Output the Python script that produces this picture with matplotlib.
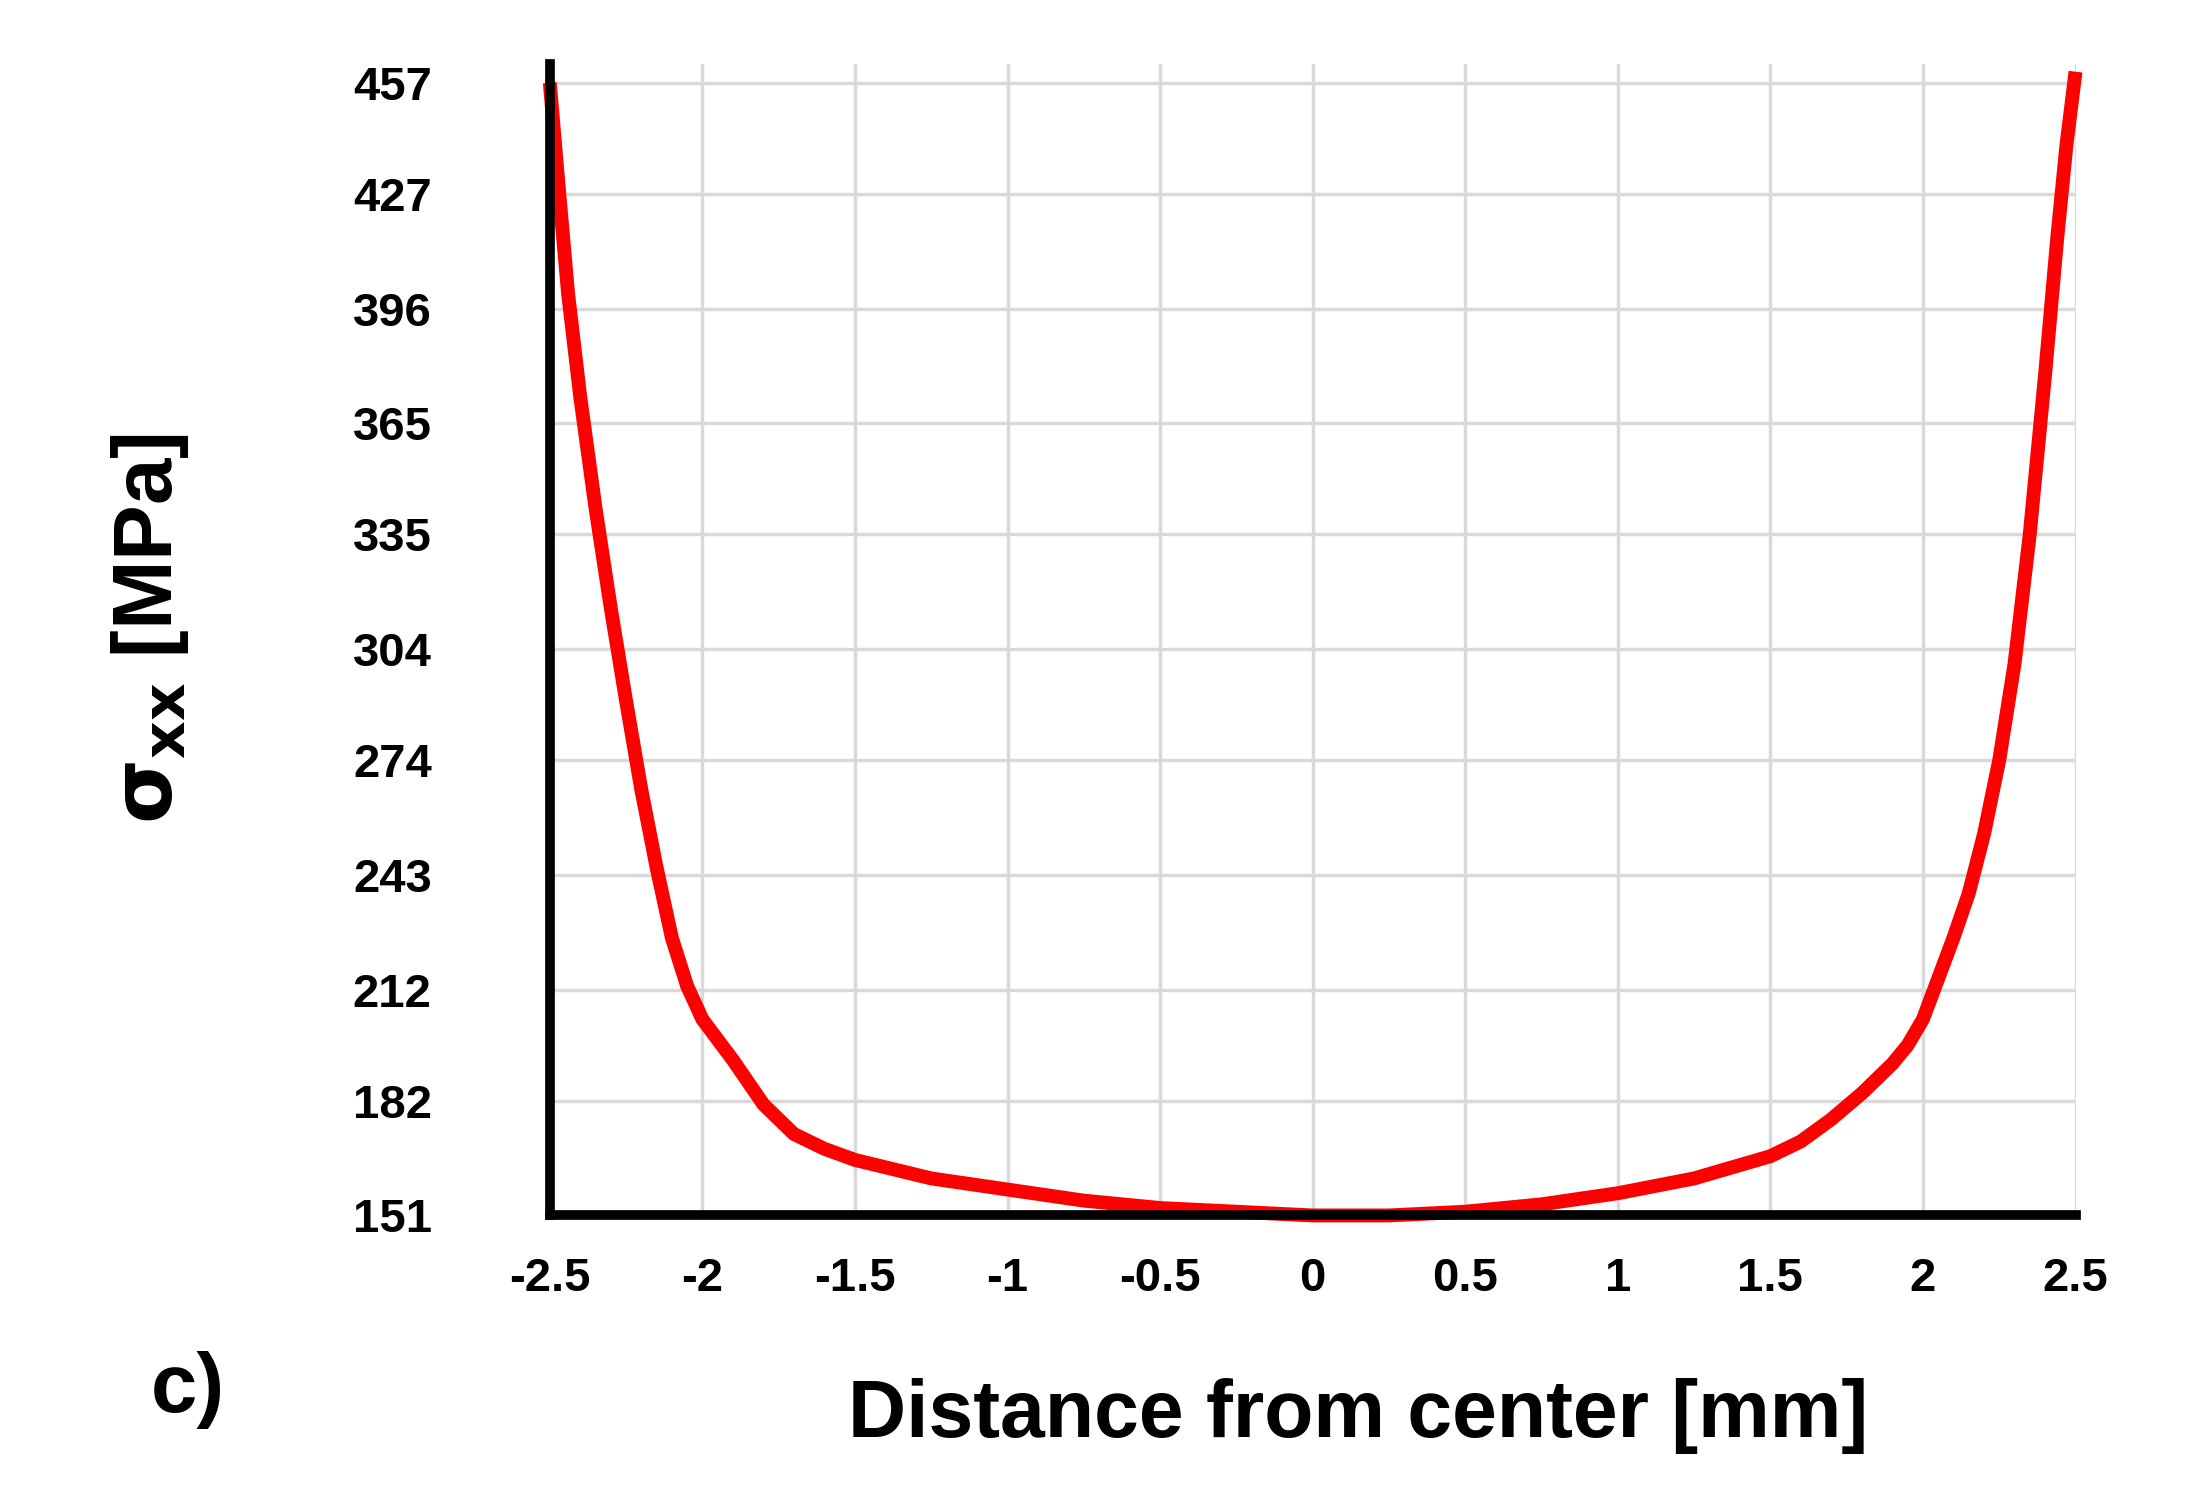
import matplotlib
matplotlib.use("Agg")
import matplotlib.pyplot as plt

x_mm = [-2.5, -2.47, -2.44, -2.4, -2.35, -2.3, -2.25, -2.2, -2.15, -2.1, -2.05, -2.0, -1.9, -1.8, -1.7, -1.6, -1.5, -1.25, -1.0, -0.75, -0.5, -0.25, 0.0, 0.25, 0.5, 0.75, 1.0, 1.25, 1.5, 1.6, 1.7, 1.8, 1.9, 1.95, 2.0, 2.05, 2.1, 2.15, 2.2, 2.25, 2.3, 2.35, 2.4, 2.44, 2.47, 2.5]
sigma = [457, 428, 400, 372, 342, 315, 290, 266, 245, 226, 213, 204, 193, 181, 173, 169, 166, 161, 158, 155, 153, 152, 151, 151, 152, 154, 157, 161, 167, 171, 177, 184, 192, 197, 204, 215, 226, 238, 254, 274, 300, 335, 378, 415, 440, 460]
yticks = [151, 182, 212, 243, 274, 304, 335, 365, 396, 427, 457]
xticks = [-2.5, -2, -1.5, -1, -0.5, 0, 0.5, 1, 1.5, 2, 2.5]
xticklabels = ["-2.5", "-2", "-1.5", "-1", "-0.5", "0", "0.5", "1", "1.5", "2", "2.5"]

plt.rcParams['font.family'] = ['Liberation Sans', 'DejaVu Sans']
fig = plt.figure(figsize=(22.08, 14.95), dpi=100)
ax = fig.add_axes([0.249, 0.187, 0.691, 0.77])
ax.plot(x_mm, sigma, color='#ff0000', lw=10, solid_capstyle='butt', solid_joinstyle='round', zorder=3, clip_on=False)
ax.set_xlim(-2.5, 2.5)
ax.set_ylim(151, 462)
ax.set_xticks(xticks)
ax.set_xticklabels(xticklabels)
ax.set_yticks(yticks)
ax.grid(True, color='#d9d9d9', lw=2.5)
for s in ['top', 'right']:
    ax.spines[s].set_visible(False)
for s in ['left', 'bottom']:
    ax.spines[s].set_linewidth(7)
    ax.spines[s].set_color('black')
    ax.spines[s].set_zorder(4)
ax.tick_params(length=0, labelsize=34)
ax.xaxis.set_tick_params(pad=30)
ax.yaxis.set_tick_params(pad=85)
for t in ax.get_xticklabels() + ax.get_yticklabels():
    t.set_fontweight('bold')
fig.text(0.615, 0.053, 'Distance from center [mm]', fontsize=58, fontweight='bold', ha='center', va='center')
ax.set_ylabel(r'$\mathbf{\sigma_{xx}}$ [MPa]', fontsize=60, fontweight='bold')
ax.yaxis.set_label_coords(-0.235, 0.51)
fig.text(0.085, 0.07, 'c)', fontsize=60, fontweight='bold', ha='center', va='center')
fig.savefig('out.png', dpi=100)
